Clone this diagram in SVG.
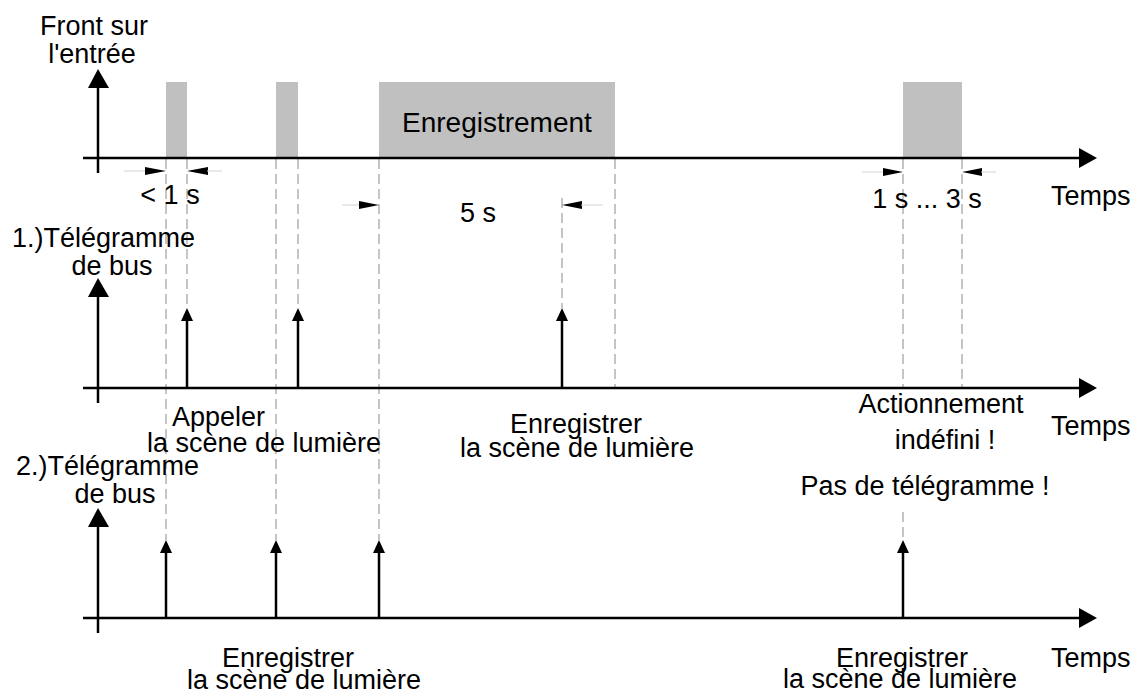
<svg xmlns="http://www.w3.org/2000/svg" width="1138" height="693" viewBox="0 0 1138 693">
<style>
text{font-family:"Liberation Sans",Arial,sans-serif;font-size:27px;fill:#000}
.ax{stroke:#000;stroke-width:2.5;fill:none}
.ev{stroke:#000;stroke-width:2.5;fill:none}
.dash{stroke:#8a8a8a;stroke-width:1;stroke-dasharray:10 5;fill:none}
.thin{stroke:#d4d4d4;stroke-width:1;fill:none}
.pulse{fill:#c0c0c0}
.head{fill:#000}
.m{text-anchor:middle}
</style>
<rect width="1138" height="693" fill="#fff"/>
<g id="pulses">
<rect class="pulse" x="166" y="82" width="21" height="76"/>
<rect class="pulse" x="276" y="82" width="22" height="76"/>
<rect class="pulse" x="379" y="82" width="236" height="76"/>
<rect class="pulse" x="903" y="82" width="59" height="76"/>
</g>
<g id="dashed">
<line class="dash" x1="166" y1="159" x2="166" y2="540"/>
<line class="dash" x1="187" y1="159" x2="187" y2="309"/>
<line class="dash" x1="276" y1="159" x2="276" y2="540"/>
<line class="dash" x1="298" y1="159" x2="298" y2="309"/>
<line class="dash" x1="379" y1="159" x2="379" y2="540"/>
<line class="dash" x1="615" y1="159" x2="615" y2="388"/>
<line class="dash" x1="562" y1="198" x2="562" y2="308"/>
<line class="dash" x1="903" y1="159" x2="903" y2="388"/>
<line class="dash" x1="903" y1="512" x2="903" y2="540"/>
<line class="dash" x1="962" y1="159" x2="962" y2="388"/>
</g>
<g id="axes">
<line class="ax" x1="83" y1="158" x2="1082" y2="158"/>
<polygon class="head" points="1097,158 1079,148 1079,168"/>
<line class="ax" x1="98" y1="173" x2="98" y2="84"/>
<polygon class="head" points="98,69 88,88 109,88"/>
<line class="ax" x1="83" y1="388" x2="1082" y2="388"/>
<polygon class="head" points="1097,388 1079,378 1079,398"/>
<line class="ax" x1="98" y1="403" x2="98" y2="292"/>
<polygon class="head" points="98,278 88,297 109,297"/>
<line class="ax" x1="83" y1="618" x2="1082" y2="618"/>
<polygon class="head" points="1097,618 1079,608 1079,628"/>
<line class="ax" x1="98" y1="633" x2="98" y2="522"/>
<polygon class="head" points="98,508 88,527 109,527"/>
</g>
<g id="connectors">
<line class="ev" x1="187" y1="388" x2="187" y2="318"/>
<polygon class="head" points="187,308 181,321 193,321"/>
<line class="ev" x1="298" y1="388" x2="298" y2="318"/>
<polygon class="head" points="298,308 292,321 304,321"/>
<line class="ev" x1="562" y1="388" x2="562" y2="318"/>
<polygon class="head" points="562,308 556,321 568,321"/>
<line class="ev" x1="166" y1="618" x2="166" y2="550"/>
<polygon class="head" points="166,540 160,553 172,553"/>
<line class="ev" x1="276" y1="618" x2="276" y2="550"/>
<polygon class="head" points="276,540 270,553 282,553"/>
<line class="ev" x1="379" y1="618" x2="379" y2="550"/>
<polygon class="head" points="379,540 373,553 385,553"/>
<line class="ev" x1="903" y1="618" x2="903" y2="550"/>
<polygon class="head" points="903,540 897,553 909,553"/>
</g>
<g id="dimensions">
<line class="thin" x1="124" y1="171" x2="146" y2="171"/>
<polygon class="head" points="166,171 145,167 145,175"/>
<polygon class="head" points="187,171 208,167 208,175"/>
<line class="thin" x1="207" y1="171" x2="222" y2="171"/>
<line class="thin" x1="342" y1="205" x2="360" y2="205"/>
<polygon class="head" points="379,205 359,201 359,209"/>
<polygon class="head" points="562,205 582,201 582,209"/>
<line class="thin" x1="581" y1="205" x2="603" y2="205"/>
<line class="thin" x1="862" y1="172" x2="884" y2="172"/>
<polygon class="head" points="903,172 883,168 883,176"/>
<polygon class="head" points="962,172 982,168 982,176"/>
<line class="thin" x1="981" y1="172" x2="996" y2="172"/>
</g>
<g id="labels">
<text class="m" x="94" y="35">Front sur</text>
<text class="m" x="92" y="63">l'entrée</text>
<text x="402" y="132" style="font-size:28px">Enregistrement</text>
<text class="m" x="170" y="204">&lt; 1 s</text>
<text class="m" x="478" y="222">5 s</text>
<text class="m" x="927" y="208">1 s ... 3 s</text>
<text x="1051" y="205">Temps</text>
<text x="12" y="247">1.)Télégramme</text>
<text class="m" x="112" y="275">de bus</text>
<text x="172" y="426">Appeler</text>
<text x="147" y="452">la scène de lumière</text>
<text class="m" x="576" y="433">Enregistrer</text>
<text class="m" x="577" y="457">la scène de lumière</text>
<text class="m" x="941" y="413">Actionnement</text>
<text class="m" x="945" y="449">indéfini !</text>
<text x="1051" y="435">Temps</text>
<text class="m" x="925" y="495">Pas de télégramme !</text>
<text x="16" y="475">2.)Télégramme</text>
<text class="m" x="115" y="503">de bus</text>
<text x="222" y="667">Enregistrer</text>
<text x="187" y="689">la scène de lumière</text>
<text class="m" x="902" y="667">Enregistrer</text>
<text class="m" x="900" y="688">la scène de lumière</text>
<text x="1051" y="667">Temps</text>
</g>
</svg>
